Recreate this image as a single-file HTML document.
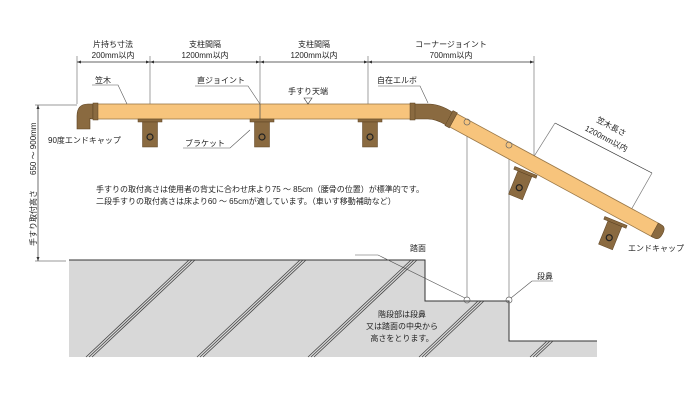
<!DOCTYPE html>
<html><head><meta charset="utf-8"><style>
html,body{margin:0;padding:0;background:#fff;}
svg{display:block;font-family:"Liberation Sans","Noto Sans CJK JP",sans-serif;}
</style></head><body>
<svg width="700" height="400" viewBox="0 0 700 400" xmlns="http://www.w3.org/2000/svg">
<defs>
<g id="br">
 <rect x="-12" y="0" width="24" height="3" fill="#8a6a40" stroke="#5a4020" stroke-width="0.5"/>
 <rect x="-7.5" y="3" width="15" height="25" fill="#8a6a40" stroke="#5a4020" stroke-width="0.5"/>
 <circle cx="0" cy="18" r="3" fill="none" stroke="#222" stroke-width="1.2"/>
</g>
</defs>
<!-- floor -->
<path d="M69,260 H425 V301 H509 V341 H597 V357 H69 Z" fill="#d8d8d8"/>
<path d="M69,260 H425 V301 H509 V341 H597" fill="none" stroke="#333" stroke-width="1"/>
<g stroke="#444" stroke-width="0.8">
 <path d="M86,357 L189,260 M89,357 L192,260 M92,357 L195,260"/>
 <path d="M197,357 L300,260 M200,357 L303,260 M203,357 L306,260"/>
 <path d="M308,357 L411,260 M311,357 L414,260 M314,357 L417,260"/>
 <path d="M419,357 L478,301 M422,357 L481,301 M425,357 L484,301"/>
 <path d="M530,357 L547,341 M533,357 L550,341 M536,357 L553,341"/>
</g>
<!-- extension lines -->
<g stroke="#777" stroke-width="0.7" fill="none">
 <line x1="77" y1="56" x2="77" y2="104"/>
 <line x1="150" y1="56" x2="150" y2="104"/>
 <line x1="260" y1="56" x2="260" y2="119"/>
 <line x1="368" y1="56" x2="368" y2="104"/>
 <line x1="534" y1="56" x2="534" y2="158"/>
 <line x1="35" y1="105" x2="77" y2="105"/>
 <line x1="35" y1="261" x2="66" y2="261"/>
 <line x1="467" y1="125" x2="467" y2="297"/>
 <line x1="509" y1="148" x2="509" y2="297"/>
 <line x1="555" y1="123" x2="533" y2="158"/>
 <line x1="652" y1="173" x2="631" y2="210"/>
</g>
<g stroke="#333" stroke-width="0.7">
 <line x1="77" y1="62" x2="534" y2="62"/>
 <line x1="38" y1="105" x2="38" y2="261"/>
 <line x1="555" y1="123" x2="652" y2="173"/>
</g>
<g fill="#333">
 <path d="M77,62 l4,-1.5 v3z M150,62 l-4,-1.5 v3z M150,62 l4,-1.5 v3z M260,62 l-4,-1.5 v3z M260,62 l4,-1.5 v3z M368,62 l-4,-1.5 v3z M368,62 l4,-1.5 v3z M534,62 l-4,-1.5 v3z"/>
 <path d="M38,105 l-1.5,4 h3z M38,261 l-1.5,-4 h3z"/>
</g>
<!-- horizontal rail -->
<rect x="97" y="104" width="318" height="15" fill="#f7c47c" stroke="#9a7848" stroke-width="0.8"/>
<line x1="260" y1="104" x2="260" y2="119" stroke="#555" stroke-width="0.8"/>
<!-- left elbow end cap -->
<path d="M93,104 H88 Q77,104 77,116 V129 H90 V118 Q90,119 93,119 Z" fill="#8a6a40" stroke="#5a4020" stroke-width="0.6"/>
<rect x="93" y="103" width="5" height="17" fill="#8a6a40" stroke="#5a4020" stroke-width="0.5"/>
<!-- corner elbow -->
<path d="M413,104 H428 Q440,104 452,112 L446,125 Q436,119 428,119 H413 Z" fill="#8a6a40" stroke="#5a4020" stroke-width="0.6"/>
<rect x="410" y="103" width="5" height="17" fill="#8a6a40" stroke="#5a4020" stroke-width="0.5"/>
<!-- slanted rail -->
<g transform="translate(449,118) rotate(28.5)">
 <rect x="0" y="-7.5" width="236" height="15" fill="#f7c47c" stroke="#9a7848" stroke-width="0.8"/>
 <rect x="0" y="-8.5" width="5" height="17" fill="#8a6a40" stroke="#5a4020" stroke-width="0.5"/>
 <path d="M234,-7.5 h4 q5,0 5,7.5 q0,7.5 -5,7.5 h-4z" fill="#8a6a40" stroke="#5a4020" stroke-width="0.5"/>
</g>
<!-- brackets -->
<use href="#br" x="150" y="119"/>
<use href="#br" x="262" y="119"/>
<use href="#br" x="370" y="119"/>
<use href="#br" transform="translate(526,171) rotate(22)"/>
<use href="#br" transform="translate(616,221) rotate(22)"/>
<!-- circles -->
<g fill="none" stroke="#666" stroke-width="0.7">
 <circle cx="467" cy="122" r="3"/><circle cx="509" cy="145" r="3"/>
 <circle cx="467" cy="300" r="3"/><circle cx="509" cy="300" r="3"/>
</g>
<!-- leaders -->
<g stroke="#555" stroke-width="0.6" fill="none">
 <path d="M92,85 H118 L127,104"/>
 <path d="M195,86 H248 L260,104"/>
 <path d="M378,86 H420 L428,103"/>
 <path d="M183,148 H230 L250,130"/>
 <path d="M355,255 H378 L465,298"/>
 <path d="M532,281 H553 M532,281 L511,298"/>
</g>
<path d="M304,98 h8 l-4,6z" fill="#fff" stroke="#333" stroke-width="0.6"/>
<!-- texts -->
<g font-size="8" fill="#222" text-anchor="middle">
 <text x="113" y="47">片持ち寸法</text>
 <text x="113" y="58">200mm以内</text>
 <text x="205" y="47">支柱間隔</text>
 <text x="205" y="58">1200mm以内</text>
 <text x="314" y="47">支柱間隔</text>
 <text x="314" y="58">1200mm以内</text>
 <text x="451" y="47">コーナージョイント</text>
 <text x="451" y="58">700mm以内</text>
 <text x="308" y="94">手すり天端</text>
 <text x="402" y="317">階段部は段鼻</text>
 <text x="402" y="329">又は踏面の中央から</text>
 <text x="402" y="341">高さをとります。</text>
</g>
<g font-size="8" fill="#222">
 <text x="95" y="83">笠木</text>
 <text x="197" y="83">直ジョイント</text>
 <text x="377" y="83">自在エルボ</text>
 <text x="48" y="143">90度エンドキャップ</text>
 <text x="185" y="146">ブラケット</text>
 <text x="96" y="192">手すりの取付高さは使用者の背丈に合わせ床より75 ～ 85cm（腰骨の位置）が標準的です。</text>
 <text x="96" y="204">二段手すりの取付高さは床より60 ～ 65cmが適しています。（車いす移動補助など）</text>
 <text x="410" y="251">踏面</text>
 <text x="537" y="279">段鼻</text>
 <text x="628" y="251">エンドキャップ</text>
 <text transform="translate(36,246) rotate(-90)">手すり取付高さ</text>
 <text transform="translate(36,175) rotate(-90)">650 ～ 900mm</text>
</g>
<g font-size="8" fill="#222" text-anchor="middle">
 <text transform="translate(610,129) rotate(28)">笠木長さ</text>
 <text transform="translate(605,141) rotate(28)">1200mm以内</text>
</g>
</svg>
</body></html>
